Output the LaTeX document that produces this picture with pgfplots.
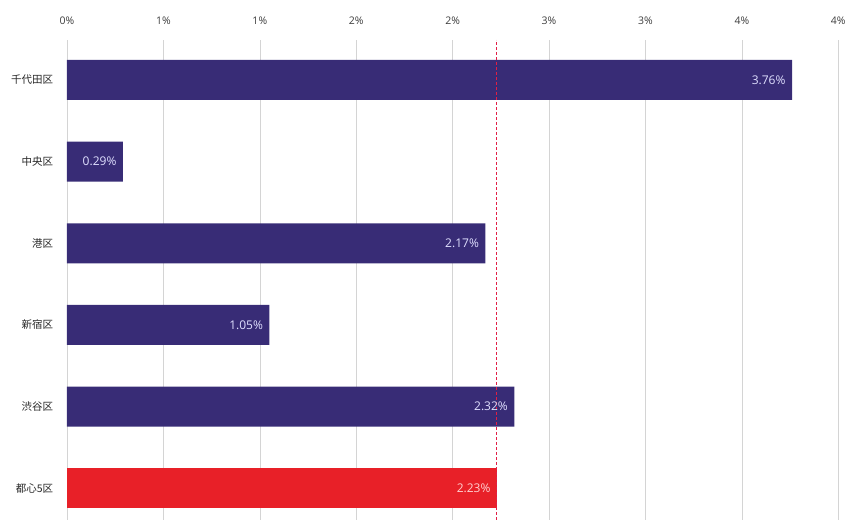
\documentclass[border=0pt]{standalone}
\usepackage{pgfplots}
\pgfplotsset{compat=1.18}
\usepackage{fontspec}
\setmainfont{Open Sans}
\newfontfamily\cjk{Noto Sans CJK JP}
\definecolor{barpurple}{RGB}{56,44,118}
\definecolor{barred}{RGB}{232,32,40}
\definecolor{dashred}{RGB}{225,30,70}
\definecolor{gridgray}{RGB}{212,212,212}
\definecolor{ticktext}{RGB}{60,60,60}
\begin{document}
\begin{tikzpicture}
\begin{axis}[
  name=ax,
  scale only axis,
  width=779pt, height=480pt,
  xmin=0, xmax=4.04,
  ymin=-0.39, ymax=5.49,
  xbar, bar width=0.49, bar shift=0pt,
  axis line style={draw=none},
  tick style={draw=none},
  /pgf/number format/assume math mode=true,
  xtick={0,0.5,1,1.5,2,2.5,3,3.5,4},
  xticklabels={0\%,1\%,1\%,2\%,2\%,3\%,3\%,4\%,4\%},
  xticklabel pos=upper,
  xticklabel style={font=\fontsize{10.5}{11}\selectfont, text=ticktext, yshift=12pt},
  xmajorgrids, grid style={gridgray, line width=0.6pt},
  ytick={0,1,2,3,4,5},
  yticklabels={都心5区,渋谷区,新宿区,港区,中央区,千代田区},
  yticklabel style={font=\cjk\fontsize{10.5}{11}\selectfont, text=black!85, xshift=-6pt},
  point meta=x,
  nodes near coords={\pgfmathprintnumber[fixed,precision=2,zerofill,assume math mode=true]{\pgfplotspointmeta}\%},
  nodes near coords style={anchor=east, xshift=-3pt, font=\fontsize{12}{13}\selectfont},
  clip=false,
]
\addplot[fill=barpurple, draw=none, nodes near coords style={text=blue!12!white}] coordinates {
  (3.76,5) (0.29,4) (2.17,3) (1.05,2) (2.32,1)
};
\addplot[fill=barred, draw=none, nodes near coords style={text=red!18!white}] coordinates {
  (2.23,0)
};
\addplot[xbar=false, sharp plot, dashred, dash pattern=on 3pt off 2pt, line width=1pt, nodes near coords={}, mark=none] coordinates {
  (2.23,-0.39) (2.23,5.49)
};
\end{axis}
\pgfresetboundingbox
\path ([xshift=-67pt]ax.south west) rectangle ([xshift=-1pt,yshift=40pt]ax.north east);
\end{tikzpicture}
\end{document}
